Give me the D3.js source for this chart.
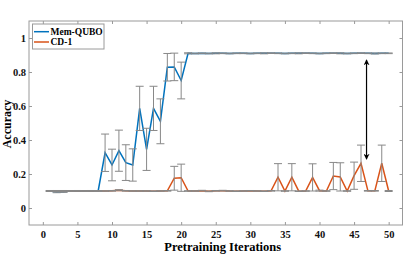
<!DOCTYPE html>
<html>
<head>
<meta charset="utf-8">
<script src="https://cdn.jsdelivr.net/npm/d3@7"></script>
<style>
    body { margin: 0; background: #fff; }
    svg { display: block; }
    svg text { font-family: "Liberation Serif", "DejaVu Serif", serif; font-weight: bold; }
</style>
</head>
<body>
<svg></svg>
<script>
const iterations = d3.range(1, 51)

const memQubo = [
    0.100, 0.094, 0.096, 0.100, 0.100, 0.100, 0.100, 0.100, 0.325, 0.253,
    0.337, 0.267, 0.253, 0.586, 0.345, 0.586, 0.510, 0.828, 0.830, 0.750,
    0.910, 0.909, 0.910, 0.909, 0.910, 0.910, 0.909, 0.910, 0.910, 0.909,
    0.910, 0.910, 0.911, 0.910, 0.909, 0.910, 0.910, 0.911, 0.910, 0.909,
    0.910, 0.911, 0.910, 0.909, 0.910, 0.911, 0.910, 0.909, 0.910, 0.910
]
const memQuboErr = [
    0.003, 0.004, 0.004, 0.002, 0.002, 0.002, 0.002, 0.002, 0.110, 0.093,
    0.121, 0.105, 0.095, 0.130, 0.124, 0.130, 0.132, 0.081, 0.081, 0.108,
    0.003, 0.002, 0.002, 0.002, 0.003, 0.002, 0.002, 0.002, 0.002, 0.002,
    0.002, 0.003, 0.002, 0.002, 0.002, 0.002, 0.003, 0.002, 0.002, 0.002,
    0.002, 0.002, 0.003, 0.002, 0.002, 0.002, 0.002, 0.003, 0.002, 0.002
]

const cd1 = [
    0.100, 0.100, 0.100, 0.100, 0.101, 0.100, 0.101, 0.100, 0.100, 0.101,
    0.105, 0.101, 0.100, 0.100, 0.100, 0.099, 0.100, 0.101, 0.175, 0.178,
    0.100, 0.100, 0.102, 0.098, 0.101, 0.102, 0.100, 0.099, 0.100, 0.101,
    0.100, 0.099, 0.101, 0.181, 0.100, 0.181, 0.099, 0.100, 0.180, 0.102,
    0.100, 0.188, 0.183, 0.100, 0.190, 0.263, 0.101, 0.101, 0.263, 0.100
]
const cd1Err = [
    0.002, 0.003, 0.003, 0.002, 0.002, 0.002, 0.002, 0.002, 0.002, 0.002,
    0.003, 0.002, 0.002, 0.002, 0.002, 0.002, 0.002, 0.002, 0.070, 0.080,
    0.002, 0.002, 0.002, 0.002, 0.002, 0.002, 0.002, 0.002, 0.002, 0.002,
    0.002, 0.002, 0.002, 0.080, 0.002, 0.080, 0.002, 0.002, 0.080, 0.003,
    0.002, 0.080, 0.083, 0.002, 0.080, 0.107, 0.002, 0.002, 0.107, 0.003
]

const xTicks = [0, 5, 10, 15, 20, 25, 30, 35, 40, 45, 50]
const yTicks = [0, 0.2, 0.4, 0.6, 0.8, 1]

const series = [
    { name: 'Mem-QUBO', values: memQubo, err: memQuboErr, color: '#0072BD' },
    { name: 'CD-1', values: cd1, err: cd1Err, color: '#D95319' }
]

const
    width = 415,
    height = 256,
    margin = { top: 21, right: 12.5, bottom: 31, left: 29 }

const svg = d3.select('svg')
    .attr('width', width)
    .attr('height', height)

const x = d3.scaleLinear()
    .domain([-2, 52])
    .range([margin.left, width - margin.right])

const y = d3.scaleLinear()
    .domain([-0.1, 1.1])
    .range([height - margin.bottom, margin.top])

const axisColor = '#9a9a9a'

// axes, MATLAB style with box and inward ticks
const styleAxis = g => {
    g.attr('font-family', null).attr('font-size', null)
    g.select('.domain').remove()
    g.selectAll('.tick line').attr('stroke', axisColor)
    g.selectAll('.tick text').attr('fill', '#111').attr('font-size', 10.5)
}

svg.append('g')
    .attr('transform', `translate(0,${height - margin.bottom})`)
    .call(d3.axisBottom(x).tickValues(xTicks).tickSize(-3).tickPadding(5.5))
    .call(styleAxis)

svg.append('g')
    .attr('transform', `translate(0,${margin.top})`)
    .call(d3.axisTop(x).tickValues(xTicks).tickSize(-3).tickFormat(''))
    .call(styleAxis)

svg.append('g')
    .attr('transform', `translate(${margin.left},0)`)
    .call(d3.axisLeft(y).tickValues(yTicks).tickSize(-3).tickPadding(3).tickFormat(d3.format('~g')))
    .call(styleAxis)

svg.append('g')
    .attr('transform', `translate(${width - margin.right},0)`)
    .call(d3.axisRight(y).tickValues(yTicks).tickSize(-3).tickFormat(''))
    .call(styleAxis)

svg.append('rect')
    .attr('x', margin.left)
    .attr('y', margin.top)
    .attr('width', width - margin.right - margin.left)
    .attr('height', height - margin.bottom - margin.top)
    .attr('fill', 'none')
    .attr('stroke', axisColor)

// lines
const line = d3.line()
    .x((d, i) => x(iterations[i]))
    .y(d => y(d))

svg.append('g')
    .selectAll('path')
    .data(series)
    .enter().append('path')
    .attr('d', d => line(d.values))
    .attr('fill', 'none')
    .attr('stroke', d => d.color)
    .attr('stroke-width', 1.5)

// error bars
const cap = 4
series.forEach(s => {
    const g = svg.append('g')
        .attr('stroke', '#888')
        .attr('stroke-width', 1)
    const bars = g.selectAll('g')
        .data(s.values.map((v, i) => ({ it: iterations[i], v: v, e: s.err[i] })))
        .enter().append('g')
    bars.append('line')
        .attr('x1', d => x(d.it)).attr('x2', d => x(d.it))
        .attr('y1', d => y(d.v - d.e)).attr('y2', d => y(d.v + d.e))
    bars.append('line')
        .attr('x1', d => x(d.it) - cap).attr('x2', d => x(d.it) + cap)
        .attr('y1', d => y(d.v + d.e)).attr('y2', d => y(d.v + d.e))
    bars.append('line')
        .attr('x1', d => x(d.it) - cap).attr('x2', d => x(d.it) + cap)
        .attr('y1', d => y(d.v - d.e)).attr('y2', d => y(d.v - d.e))
})

// double headed arrow
const defs = svg.append('defs')
defs.append('marker')
    .attr('id', 'head')
    .attr('viewBox', '0 0 10 10')
    .attr('refX', 9).attr('refY', 5)
    .attr('markerWidth', 5).attr('markerHeight', 5)
    .attr('orient', 'auto-start-reverse')
    .append('path')
    .attr('d', 'M0,0 L10,5 L0,10 L3,5 Z')
    .attr('fill', '#000')

svg.append('line')
    .attr('x1', x(46.8)).attr('x2', x(46.8))
    .attr('y1', y(0.871)).attr('y2', y(0.287))
    .attr('stroke', '#000')
    .attr('stroke-width', 1.2)
    .attr('marker-start', 'url(#head)')
    .attr('marker-end', 'url(#head)')

// legend
const legend = svg.append('g')
    .attr('transform', 'translate(32.5,24)')

legend.append('rect')
    .attr('width', 71.5)
    .attr('height', 25)
    .attr('fill', '#fff')
    .attr('stroke', axisColor)

const item = legend.selectAll('g')
    .data(series)
    .enter().append('g')
    .attr('transform', (d, i) => `translate(0,${7.7 + i * 10.3})`)

item.append('line')
    .attr('x1', 1.5).attr('x2', 16.5)
    .attr('stroke', d => d.color)
    .attr('stroke-width', 1.5)

item.append('text')
    .attr('x', 18)
    .attr('dy', '0.35em')
    .attr('font-size', 9.5)
    .text(d => d.name)

// axis titles
svg.append('text')
    .attr('x', (margin.left + width - margin.right) / 2 + 7)
    .attr('y', 251)
    .attr('text-anchor', 'middle')
    .attr('font-size', 12.5)
    .text('Pretraining Iterations')

svg.append('text')
    .attr('transform', 'translate(10.5,124) rotate(-90)')
    .attr('text-anchor', 'middle')
    .attr('font-size', 12)
    .text('Accuracy')
</script>
</body>
</html>
